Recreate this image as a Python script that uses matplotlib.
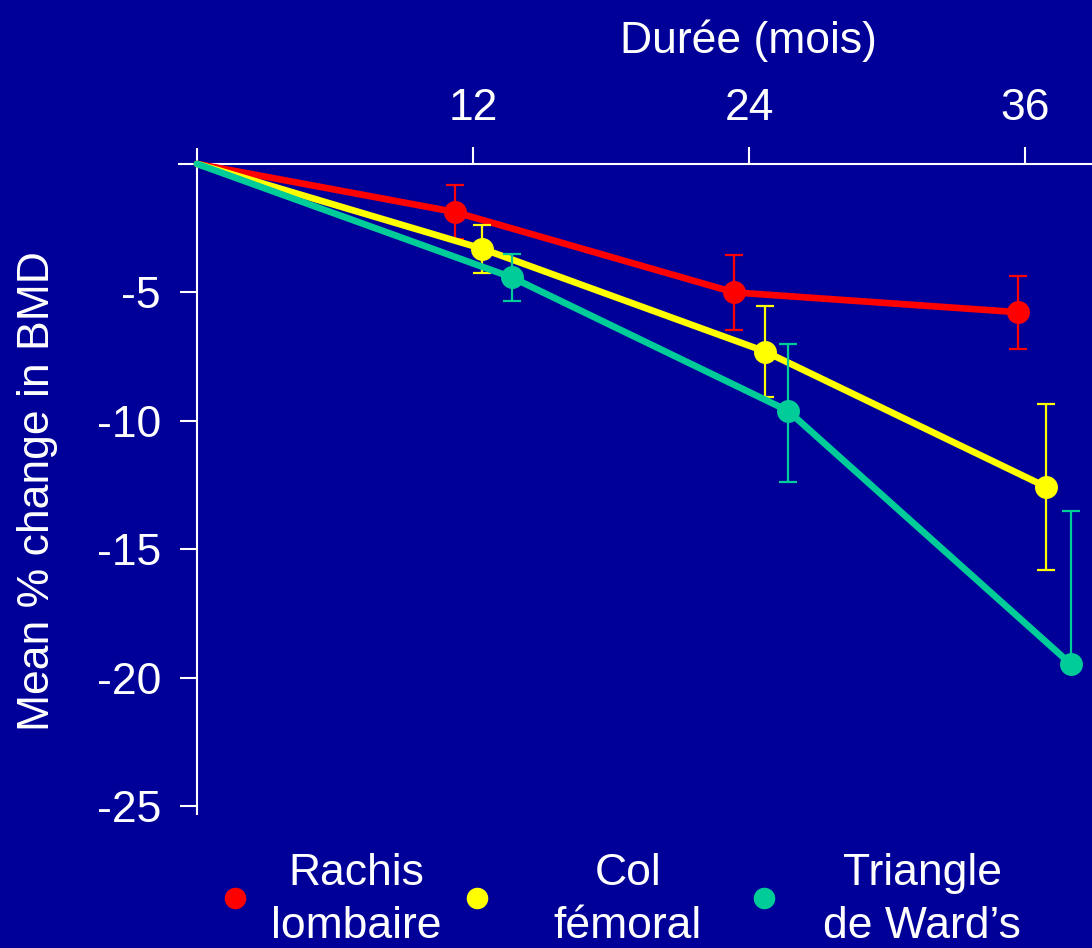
import matplotlib.pyplot as plt
import numpy as np

plt.rcParams['font.family'] = ['Liberation Sans', 'DejaVu Sans']

# Données (mois, % de variation de la DMO)
labels = ['Rachis\nlombaire', 'Col\nfémoral', 'Triangle\nde Ward\u2019s']
colors = ['#ff0000', '#ffff00', '#00cc99']

months_rachis = [0, 11.2, 23.35, 35.7]
bmd_rachis = [0, -1.87, -5.0, -5.77]
err_rachis = [[1.05, 1.47, 1.42], [1.05, 1.47, 1.42]]

months_col = [0, 12.4, 24.7, 36.9]
bmd_col = [0, -3.30, -7.30, -12.56]
err_col = [[0.93, 1.78, 3.23], [0.93, 1.78, 3.23]]

months_ward = [0, 13.7, 25.7, 38.0]
bmd_ward = [0, -4.42, -9.61, -19.47]
err_ward = [[0.91, 2.75, 0.0], [0.91, 2.6, 5.96]]

xticks = [12, 24, 36]
yticks = [-5, -10, -15, -20, -25]

bg = '#000099'
fg = 'white'

fig = plt.figure(figsize=(10.92, 9.48), dpi=100, facecolor=bg)
ax = fig.add_axes([179 / 1092, 128 / 948, 913 / 1092, 671 / 948], facecolor=bg)

series = [(months_rachis, bmd_rachis, err_rachis),
          (months_col, bmd_col, err_col),
          (months_ward, bmd_ward, err_ward)]

for (x, y, e), c in zip(series, colors):
    ax.plot(x, y, color=c, lw=4.8, solid_capstyle='round', clip_on=False, zorder=3)
    ax.errorbar(x[1:], y[1:], yerr=e, fmt='o', color=c, ms=15.5, mec=c,
                elinewidth=1.6, capsize=6.5, capthick=1.6, clip_on=False, zorder=3)

ax.set_xlim(-18 / 23, 895 / 23)
ax.set_ylim(-25.53, 0.58)

# axes en croix : axe des x en haut à y=0, axe des y à x=0
for s in ['right', 'bottom']:
    ax.spines[s].set_visible(False)
ax.spines['top'].set_position(('data', 0))
ax.spines['left'].set_position(('data', 0))
ax.spines['left'].set_bounds(-25.3, 0.58)
for s in ['top', 'left']:
    ax.spines[s].set_color(fg)
    ax.spines[s].set_linewidth(1.5)

ax.xaxis.tick_top()
ax.set_xticks(xticks)
ax.set_xticklabels([str(t) for t in xticks])
ax.set_yticks(yticks)
ax.set_yticklabels([str(t) for t in yticks])
ax.tick_params(axis='x', colors=fg, length=12, width=1.5, labelsize=32, pad=13)
ax.tick_params(axis='y', colors=fg, length=12, width=1.5, labelsize=32, pad=14)

ax.set_ylabel('Mean % change in BMD', color=fg, fontsize=32)
ax.yaxis.set_label_coords(-0.1325, 0.49)

fig.text(748 / 1092, 1 - 41 / 948, 'Durée (mois)', color=fg, fontsize=32,
         ha='center', va='center')

# légende
lax = fig.add_axes([0, 0, 1, 1], facecolor='none')
lax.set_xlim(0, 1092)
lax.set_ylim(948, 0)
lax.axis('off')
mark_x = [235, 477, 764]
text_x = [356, 628, 922]
for mx, tx, c, lab in zip(mark_x, text_x, colors, labels):
    lax.plot([mx], [898], 'o', color=c, ms=14.5)
    lax.text(tx, 900, lab, color=fg, fontsize=32, ha='center', va='center',
             multialignment='center', linespacing=1.35)

fig.savefig('out.png', dpi=100, facecolor=bg)
